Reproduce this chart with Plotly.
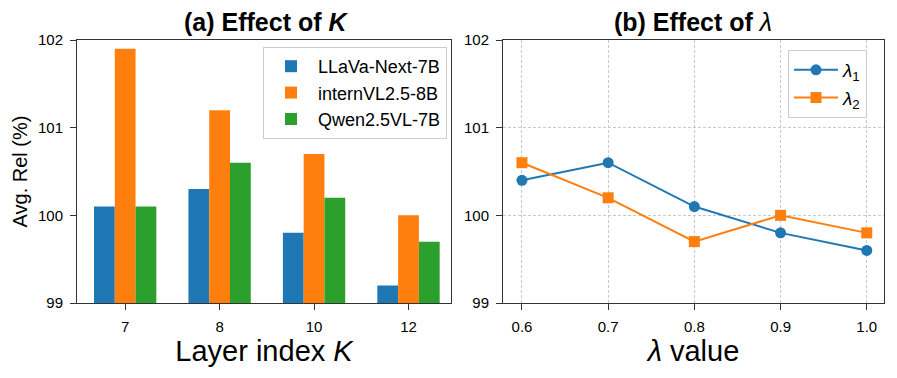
import plotly.graph_objects as go
from plotly.subplots import make_subplots

# panel (a): effect of layer index K
layers = ["7", "8", "10", "12"]
llava = [100.1, 100.3, 99.8, 99.2]
internvl = [101.9, 101.2, 100.7, 100.0]
qwen = [100.1, 100.6, 100.2, 99.7]

# panel (b): effect of lambda
lam_vals = [0.6, 0.7, 0.8, 0.9, 1.0]
lam1 = [100.4, 100.6, 100.1, 99.8, 99.6]
lam2 = [100.6, 100.2, 99.7, 100.0, 99.8]

W, H = 897, 378
OFF = 8  # page body margin offset
FONT = "Liberation Sans, Arial, Helvetica, sans-serif"
AX = "#333333"


def px(x):
    return (x - OFF) / W


def py(y):
    return 1 - (y - OFF) / H


fig = make_subplots(rows=1, cols=2)

colors = ["#1f77b4", "#ff7f0e", "#2ca02c"]
names = ["LLaVa-Next-7B", "internVL2.5-8B", "Qwen2.5VL-7B"]
for vals, c, n in zip([llava, internvl, qwen], colors, names):
    fig.add_trace(go.Bar(x=layers, y=vals, name=n, marker_color=c,
                         marker_line_width=0, legend="legend"), row=1, col=1)

fig.add_trace(go.Scatter(x=lam_vals, y=lam1, mode="lines+markers", name="<i>λ</i><sub>1</sub>",
                         line=dict(color="#1f77b4", width=2),
                         marker=dict(symbol="circle", size=11, color="#1f77b4"),
                         legend="legend2"), row=1, col=2)
fig.add_trace(go.Scatter(x=lam_vals, y=lam2, mode="lines+markers", name="<i>λ</i><sub>2</sub>",
                         line=dict(color="#ff7f0e", width=2),
                         marker=dict(symbol="square", size=11, color="#ff7f0e"),
                         legend="legend2"), row=1, col=2)

axis_common = dict(showline=True, linecolor=AX, linewidth=1, mirror=True,
                   ticks="outside", ticklen=6, tickcolor=AX, automargin=False,
                   ticklabelstandoff=4,
                   tickfont=dict(size=15, color="black", family=FONT), zeroline=False)
grid = dict(showgrid=True, gridcolor="#c8c8c8", griddash="3px,2px", gridwidth=0.8)

ydom = [py(303), py(40)]
fig.update_layout(
    xaxis=dict(domain=[px(77), px(451)], range=[-0.51, 3.45], showgrid=False,
               title=dict(text="Layer index <i>K</i>", font=dict(size=29, family=FONT, color="black"), standoff=2),
               **axis_common),
    yaxis=dict(domain=ydom, range=[99, 102], tickvals=[99, 100, 101, 102], showgrid=False,
               title=dict(text="Avg. Rel (%)", font=dict(size=20, family=FONT, color="black"), standoff=4),
               **axis_common),
    xaxis2=dict(domain=[px(503), px(884)], range=[0.578, 1.02],
                tickvals=lam_vals, ticktext=["0.6", "0.7", "0.8", "0.9", "1.0"],
                title=dict(text="<i>λ</i> value", font=dict(size=29, family=FONT, color="black"), standoff=2),
                **grid, **axis_common),
    yaxis2=dict(domain=ydom, range=[99, 102], tickvals=[99, 100, 101, 102],
                **grid, **axis_common),
    barmode="group", bargap=0.34, bargroupgap=0,
    width=W, height=H, margin=dict(l=0, r=0, t=0, b=0),
    plot_bgcolor="white", paper_bgcolor="white",
    font=dict(family=FONT, color="black"),
    legend=dict(x=px(447), y=py(47), xanchor="right", yanchor="top",
                bgcolor="rgba(255,255,255,0.85)", bordercolor="#cccccc", borderwidth=1,
                font=dict(size=18, family=FONT), itemwidth=44, tracegroupgap=0),
    legend2=dict(x=px(867), y=py(50), xanchor="right", yanchor="top",
                 bgcolor="rgba(255,255,255,0.85)", bordercolor="#cccccc", borderwidth=1,
                 font=dict(size=19, family=FONT), itemwidth=44),
    annotations=[
        dict(text="<b>(a) Effect of <i>K</i></b>", x=px(266), y=py(22), xref="paper", yref="paper",
             showarrow=False, font=dict(size=25, family=FONT, color="black"), xanchor="center", yanchor="middle"),
        dict(text="<b>(b) Effect of </b><i>λ</i>", x=px(693), y=py(22), xref="paper", yref="paper",
             showarrow=False, font=dict(size=25, family=FONT, color="black"), xanchor="center", yanchor="middle"),
    ],
)

fig.write_html("out.html")
